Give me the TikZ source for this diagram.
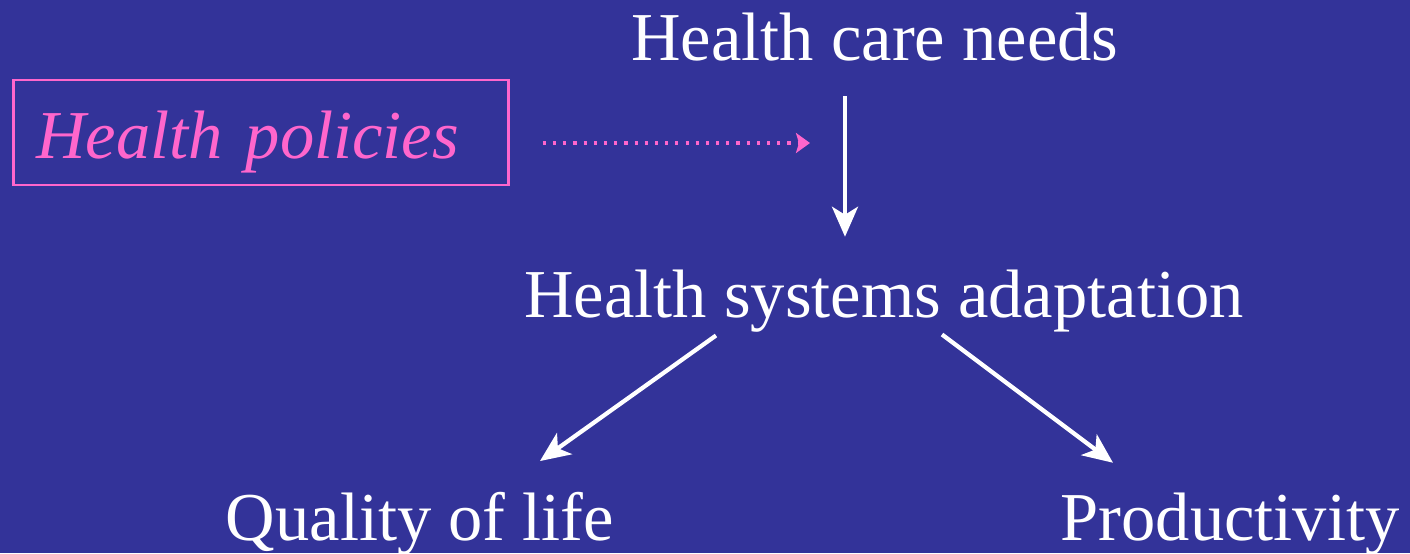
\documentclass[tikz,border=0pt]{standalone}
\usepackage{fontspec}
\setmainfont{Liberation Serif}
\usetikzlibrary{arrows.meta}
\definecolor{slidebg}{RGB}{51,51,153}
\definecolor{slidepink}{RGB}{255,102,204}

\begin{document}
\begin{tikzpicture}[
        main_text/.style={text=white, inner sep=0pt, anchor=base, font=\fontsize{19.5}{22}\selectfont},
        policy_box/.style={draw=slidepink, line width=0.8pt, text=slidepink, inner xsep=0.23cm, inner ysep=0pt,
            text width=4.49cm, align=left, text height=0.78cm, text depth=0.27cm,
            font=\fontsize{19.5}{22}\selectfont\itshape},
        flow/.style={draw=white, line width=1.2pt, -{Stealth[length=0.3cm, width=0.26cm, inset=0.08cm]}},
        hint/.style={draw=slidepink, line width=0.9pt, dotted, -{Stealth[length=0.14cm, width=0.2cm, inset=0.03cm]}}
    ]

    % --- Sfondo ---
    \fill[slidebg] (0,0) rectangle (14.10,5.53);
    \useasboundingbox (0,0) rectangle (14.10,5.53);

    % --- Nodi ---
    \node[main_text] (needs) at (8.75, 4.93) {Health care needs};
    \node[main_text] (adapt) at (8.84, 2.36) {Health systems adaptation};
    \node[main_text] (quality) at (4.20, 0.13) {Quality of life};
    \node[main_text] (prod) at (12.30, 0.13) {Productivity};

    \node[policy_box, anchor=base west] (policy) at (0.12, 3.95) {Health policies};
    \coordinate (policyend) at (8.10, 4.10);

    % --- Frecce ---
    \draw[flow, shorten <=3.5mm, shorten >=3.2mm]
        ([xshift=-3mm]needs.south) -- ([xshift=-3mm]needs.south |- adapt.north);
    \draw[hint, shorten <=3.3mm] (policy.east |- policyend) -- (policyend);

    \draw[flow] ([xshift=-16.8mm, yshift=-0.3mm]adapt.south) -- ([xshift=12mm, yshift=3mm]quality.north);
    \draw[flow] ([xshift=5.8mm, yshift=-0.2mm]adapt.south) -- ([xshift=-11.7mm, yshift=2.9mm]prod.north);

\end{tikzpicture}
\end{document}
